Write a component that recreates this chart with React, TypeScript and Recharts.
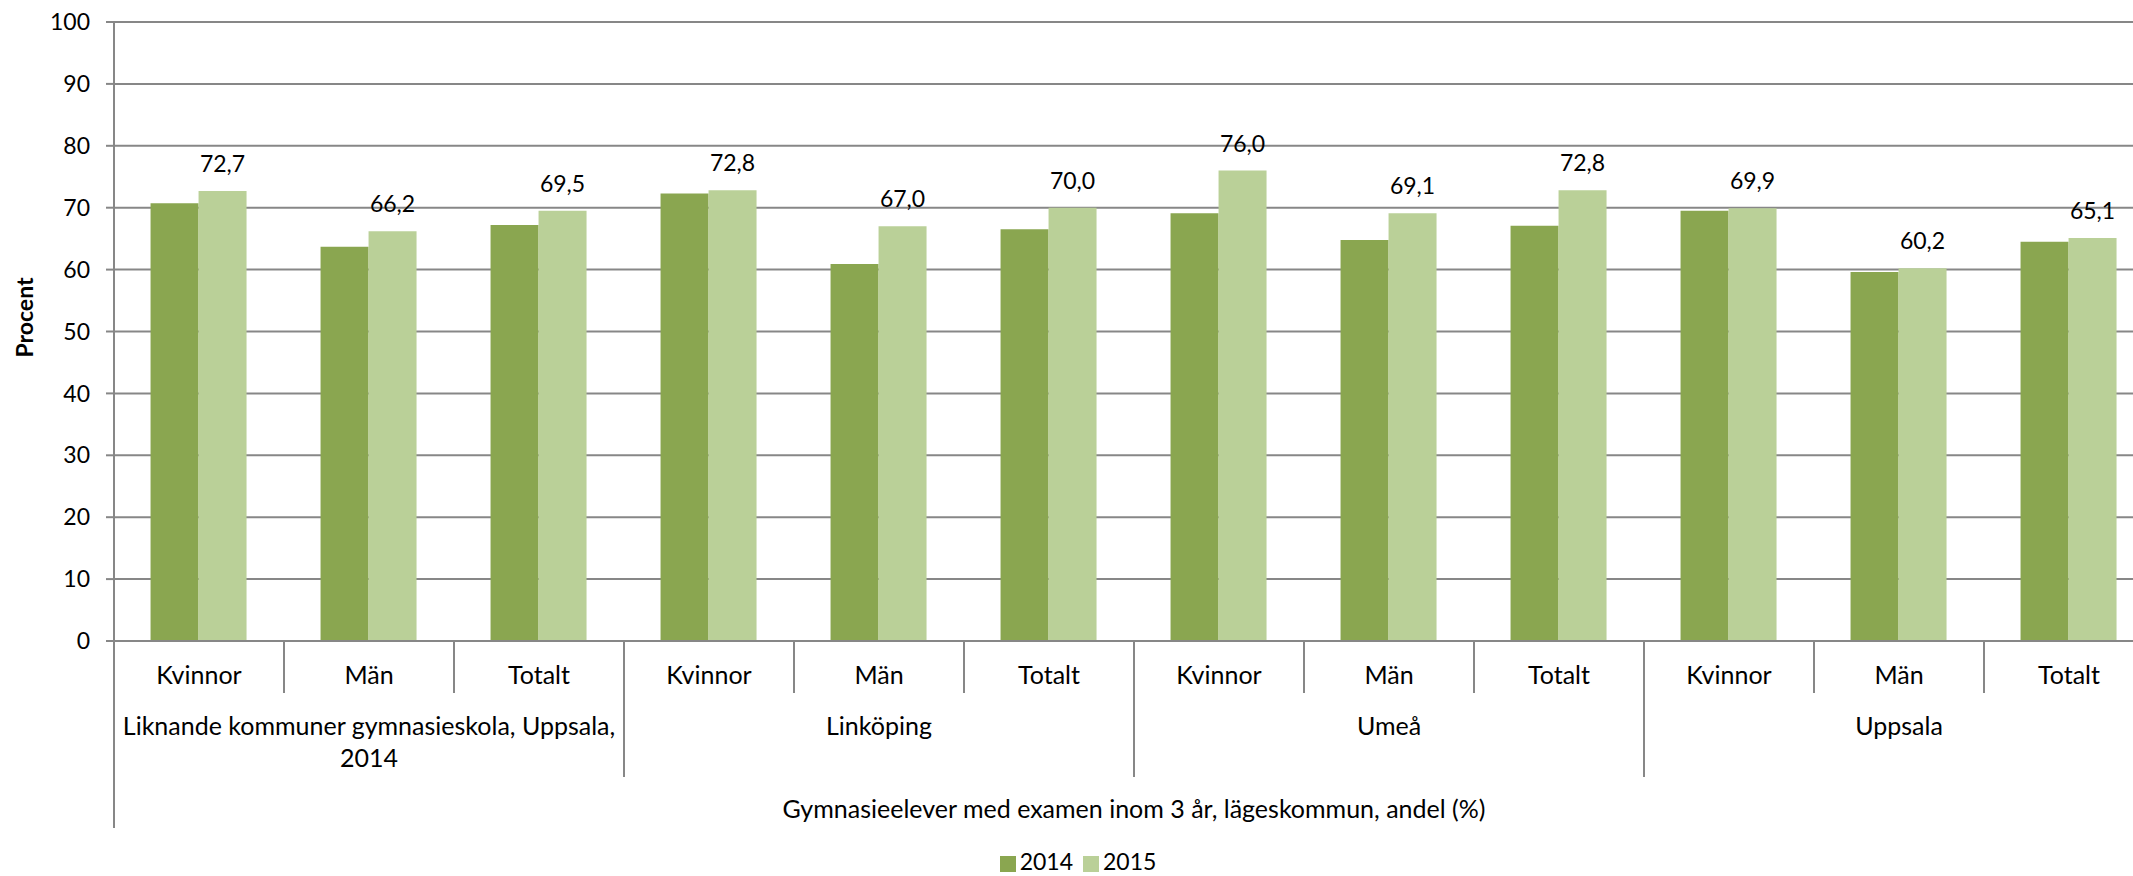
import React from "react";
import {
	BarChart,
	Bar,
	XAxis,
	YAxis,
	CartesianGrid,
	Legend,
	LabelList,
} from "recharts";

// Gymnasieelever med examen inom 3 år, per kommun och kön
const subCategories = [
	"Kvinnor", "Män", "Totalt",
	"Kvinnor", "Män", "Totalt",
	"Kvinnor", "Män", "Totalt",
	"Kvinnor", "Män", "Totalt",
];

const groupLabels = [
	["Liknande kommuner gymnasieskola, Uppsala,", "2014"],
	["Linköping"],
	["Umeå"],
	["Uppsala"],
];

const values2014 = [70.7, 63.7, 67.2, 72.3, 60.9, 66.5, 69.1, 64.8, 67.1, 69.5, 59.6, 64.5];
const values2015 = [72.7, 66.2, 69.5, 72.8, 67.0, 70.0, 76.0, 69.1, 72.8, 69.9, 60.2, 65.1];

const yTicks = [0, 10, 20, 30, 40, 50, 60, 70, 80, 90, 100];

const axisTitle = "Gymnasieelever med examen inom 3 år, lägeskommun, andel (%)";

const data = subCategories.map((sub, i) => ({
	sub,
	"2014": values2014[i],
	"2015": values2015[i],
}));

const FONT = "Lato, 'Open Sans', sans-serif";
const GRID = "#878787";
const DARK = "#8AA650";
const LIGHT = "#BAD098";

function CategoryTick(props: any) {
	const { x, y, payload } = props;
	const i = payload?.index ?? props.index;
	const half = payload?.offset ?? props.width / props.visibleTicksCount / 2;
	const pos = i % 3;
	const lines = pos === 1 ? groupLabels[Math.floor(i / 3)] : [];
	return (
		<g>
			<text x={x} y={y + 43} textAnchor="middle" fontSize={25} fontFamily={FONT} fill="#000">
				{payload.value}
			</text>
			<line x1={x + half} x2={x + half} y1={y} y2={y + (pos === 2 ? 136 : 52)} stroke={GRID} strokeWidth={2} />
			{i === 0 && (
				<line x1={x - half} x2={x - half} y1={y} y2={y + 187} stroke={GRID} strokeWidth={2} />
			)}
			{lines.map((line, k) => (
				<text key={k} x={x} y={y + 94 + k * 32} textAnchor="middle" fontSize={25} fontFamily={FONT} fill="#000">
					{line}
				</text>
			))}
		</g>
	);
}

function AxisTitle(props: any) {
	const vb = props.viewBox;
	return (
		<text x={vb.x + vb.width / 2} y={vb.y + 177} textAnchor="middle" fontSize={25} fontFamily={FONT} fill="#000">
			{axisTitle}
		</text>
	);
}

function YTitle(props: any) {
	const vb = props.viewBox;
	const cx = vb.x + 24;
	const cy = vb.y + vb.height / 2 - 14;
	return (
		<text
			x={cx}
			y={cy}
			transform={`rotate(-90, ${cx}, ${cy})`}
			textAnchor="middle"
			dominantBaseline="central"
			fontSize={23}
			fontWeight="bold"
			fontFamily={FONT}
			fill="#000"
		>
			Procent
		</text>
	);
}

export default function App() {
	return (
		<div
			style={{
				position: "fixed",
				left: 0,
				top: 0,
				width: 2133,
				height: 876,
				overflow: "hidden",
				background: "#fff",
			}}
		>
			<BarChart
				width={2166}
				height={876}
				data={data}
				margin={{ top: 22, right: 12, left: 0, bottom: 0 }}
				barCategoryGap="21.5%"
				barGap={0}
				style={{ fontFamily: FONT }}
			>
				<CartesianGrid horizontal vertical={false} stroke={GRID} strokeWidth={2} />
				<XAxis
					dataKey="sub"
					height={235}
					interval={0}
					tickLine={false}
					tickSize={0}
					tickMargin={0}
					axisLine={{ stroke: GRID, strokeWidth: 2 }}
					tick={<CategoryTick />}
					label={<AxisTitle />}
				/>
				<YAxis
					width={114}
					domain={[0, 100]}
					ticks={yTicks}
					interval={0}
					tickSize={8}
					tickMargin={16}
					tickLine={{ stroke: GRID, strokeWidth: 2 }}
					axisLine={{ stroke: GRID, strokeWidth: 2 }}
					tick={{ fontSize: 23, fill: "#000", fontFamily: FONT }}
					label={<YTitle />}
				/>
				<Legend
					verticalAlign="middle"
					align="center"
					layout="horizontal"
					iconType="square"
					iconSize={16}
					wrapperStyle={{ top: 846, left: 0, width: 2166, fontSize: 23, fontFamily: FONT, lineHeight: "30px" }}
					formatter={(value: any) => <span style={{ color: "#000" }}>{value}</span>}
				/>
				<Bar dataKey="2014" fill={DARK} isAnimationActive={false} />
				<Bar dataKey="2015" fill={LIGHT} isAnimationActive={false}>
					<LabelList
						dataKey="2015"
						position="top"
						offset={19}
						formatter={(v: any) => Number(v).toFixed(1).replace(".", ",")}
						style={{ fontSize: 23, fill: "#000", fontFamily: FONT }}
					/>
				</Bar>
			</BarChart>
		</div>
	);
}
